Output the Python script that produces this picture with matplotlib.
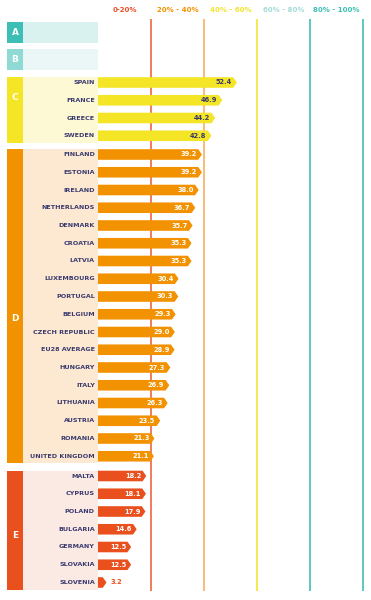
import matplotlib
matplotlib.use("Agg")
import matplotlib.pyplot as plt
from matplotlib.patches import Polygon, Rectangle

# ---------------- data ----------------
countries_C = ["SPAIN", "FRANCE", "GREECE", "SWEDEN"]
values_C = [52.4, 46.9, 44.2, 42.8]
countries_D = ["FINLAND", "ESTONIA", "IRELAND", "NETHERLANDS", "DENMARK", "CROATIA",
               "LATVIA", "LUXEMBOURG", "PORTUGAL", "BELGIUM", "CZECH REPUBLIC",
               "EU28 AVERAGE", "HUNGARY", "ITALY", "LITHUANIA", "AUSTRIA", "ROMANIA",
               "UNITED KINGDOM"]
values_D = [39.2, 39.2, 38.0, 36.7, 35.7, 35.3, 35.3, 30.4, 30.3, 29.3, 29.0, 28.9,
            27.3, 26.9, 26.3, 23.5, 21.3, 21.1]
countries_E = ["MALTA", "CYPRUS", "POLAND", "BULGARIA", "GERMANY", "SLOVAKIA", "SLOVENIA"]
values_E = [18.2, 18.1, 17.9, 14.6, 12.5, 12.5, 3.2]
value_labels_D = ["39.2", "39.2", "38.0", "36.7", "35.7", "35.3", "35.3", "30.4", "30.3",
                  "29.3", "29.0", "28.9", "27.3", "26.9", "26.3", "23.5", "21.3", "21.1"]
group_letters = ["A", "B", "C", "D", "E"]
band_labels = ["0-20%", "20% - 40%", "40% - 60%", "60% - 80%", "80% - 100%"]
band_edges = [20, 40, 60, 80, 100]

# ---------------- styles ----------------
strip_cols = ["#3dbfb5", "#8fdad5", "#f4e526", "#f39200", "#e9501e"]
bg_cols = ["#d9f2ef", "#eaf7f6", "#fdf9d5", "#fde9d1", "#fbe9e4"]
bar_cols = [None, None, "#f4e526", "#f39200", "#e9501e"]
val_cols = [None, None, "#3a3a6a", "white", "white"]
header_cols = ["#e8502a", "#f39200", "#f4e330", "#a3dcd8", "#3dbfb5"]
line_cols = ["#f07c5a", "#f9bb78", "#f6ea50", "#5cc8c0", "#5cc8c0"]
letter_offsets = [0, 0, -12, 12, 6]   # letter position relative to band centre (px)
label_col = "#3a3a6e"

W, H = 371, 600
fig = plt.figure(figsize=(W / 100, H / 100), dpi=100)
ax = fig.add_axes([0, 0, 1, 1])
px = 2.65  # pixels per percent
x0 = 98
ax.set_xlim(-x0 / px, (W - x0) / px)
ax.set_ylim(H, 0)
ax.axis("off")

font = "DejaVu Sans"
pitch = 17.75
half = 5.3
tip = 1.4

# vertical band lines
for e, c in zip(band_edges, line_cols):
    ax.plot([e, e], [19, 591], color=c, lw=1.4, zorder=1, solid_capstyle="butt")
for i, (lab, c) in enumerate(zip(band_labels, header_cols)):
    ax.text(band_edges[i] - 10, 10, lab, color=c, fontsize=5, fontweight="bold",
            ha="center", va="center", family=font)

strip_l, strip_r = (7 - x0) / px, (23 - x0) / px


def band(top, bottom, gi):
    ax.add_patch(Rectangle((strip_r, top), 0 - strip_r, bottom - top,
                           facecolor=bg_cols[gi], edgecolor="none", zorder=2))
    ax.add_patch(Rectangle((strip_l, top), strip_r - strip_l, bottom - top,
                           facecolor=strip_cols[gi], edgecolor="none", zorder=3))
    ax.text((strip_l + strip_r) / 2, (top + bottom) / 2 + letter_offsets[gi], group_letters[gi],
            color="white", fontsize=6.5, fontweight="bold", ha="center", va="center",
            family=font, zorder=4)


band(22, 43, 0)
band(49, 70, 1)

groups = [(2, 77, countries_C, values_C, [f"{v:.1f}" for v in values_C]),
          (3, 149, countries_D, values_D, value_labels_D),
          (4, 470.5, countries_E, values_E, [f"{v:.1f}" for v in values_E])]

for gi, top, names, vals, vlabs in groups:
    centers = [top + 5.5 + i * pitch for i in range(len(names))]
    band(top, centers[-1] + 7, gi)
    for yc, name, v, vl in zip(centers, names, vals, vlabs):
        poly = [(0, yc - half), (v - tip, yc - half), (v, yc), (v - tip, yc + half), (0, yc + half)]
        ax.add_patch(Polygon(poly, closed=True, facecolor=bar_cols[gi], edgecolor="none", zorder=5))
        ax.text(-1.2, yc, name, color=label_col, fontsize=4.6, fontweight="bold",
                ha="right", va="center", family=font, zorder=6)
        if v > 8:
            ax.text(v - 1.9, yc, vl, color=val_cols[gi], fontsize=4.8, fontweight="bold",
                    ha="right", va="center", family=font, zorder=6)
        else:
            ax.text(v + 1.5, yc, vl, color=bar_cols[gi], fontsize=4.8, fontweight="bold",
                    ha="left", va="center", family=font, zorder=6)

fig.savefig("out.png", dpi=100)
